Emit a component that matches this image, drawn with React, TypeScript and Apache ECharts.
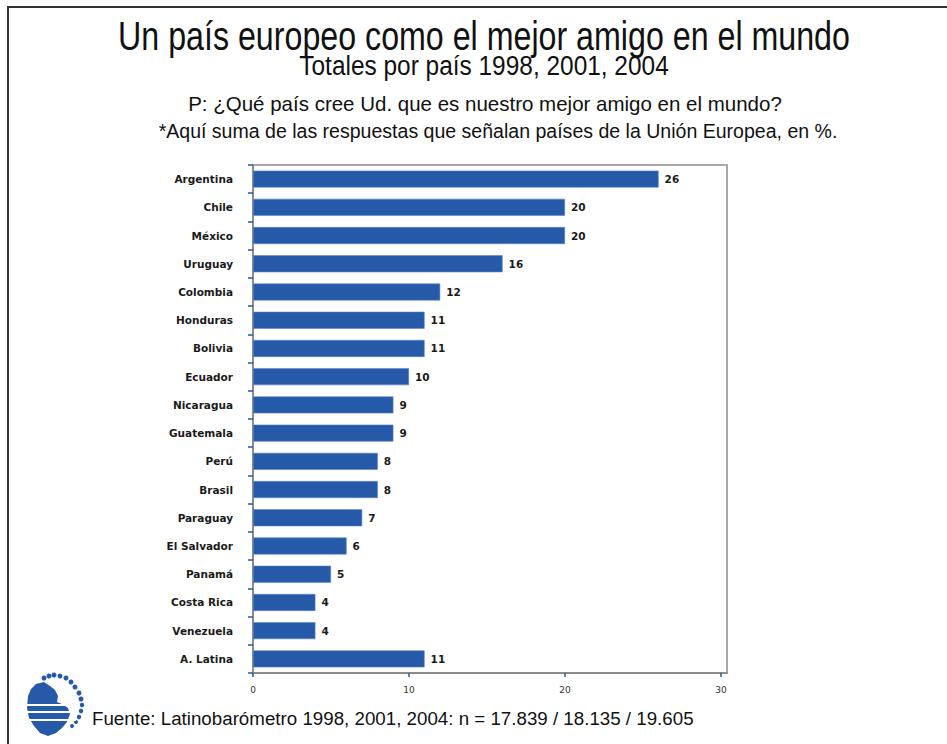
import React, { useEffect, useRef } from "react";
import * as echarts from "echarts";

const categories = [
  "Argentina", "Chile", "México", "Uruguay", "Colombia", "Honduras", "Bolivia", "Ecuador",
  "Nicaragua", "Guatemala", "Perú", "Brasil", "Paraguay", "El Salvador", "Panamá",
  "Costa Rica", "Venezuela", "A. Latina",
];
const values = [26, 20, 20, 16, 12, 11, 11, 10, 9, 9, 8, 8, 7, 6, 5, 4, 4, 11];
const xTicks = [0, 10, 20, 30];

const titleText = "Un país europeo como el mejor amigo en el mundo";
const subtitleText = "Totales por país 1998, 2001, 2004";
const questionText = "P: ¿Qué país cree Ud. que es nuestro mejor amigo en el mundo?";
const noteText = "*Aquí suma de las respuestas que señalan países de la Unión Europea, en %.";
const sourceText = "Fuente: Latinobarómetro 1998, 2001, 2004: n = 17.839 / 18.135 / 19.605";

const BLUE = "#2659a8";
const SANS = "'Liberation Sans', Arial, sans-serif";
const LABEL_FONT = "'DejaVu Sans', sans-serif";

export default function App() {
  const ref = useRef<HTMLDivElement>(null);
  useEffect(() => {
    if (!ref.current) return;
    const chart = echarts.init(ref.current, null, { renderer: "svg" });
    const logoDots = [
      [44, 678, 2.5], [49, 676, 2.5], [54, 675, 2.5], [60, 676, 2.5], [66, 678, 2.5],
      [71, 682, 2.5], [75, 687, 2.5], [79, 693, 2.5], [81, 699, 2.5], [82, 705, 2.2],
      [81, 711, 2.2], [79, 717, 2.2], [76, 722, 2], [72, 726, 2],
    ];
    chart.setOption({
      animation: false,
      backgroundColor: "#ffffff",
      grid: {
        left: 253, top: 165, width: 474, height: 508,
        show: true, borderColor: "#a8a8a8", borderWidth: 2,
      },
      xAxis: {
        type: "value", min: 0, max: 30 * 474 / 468,
        axisLine: { show: true, lineStyle: { color: "#8c8c8c", width: 2 } },
        axisTick: { show: true, customValues: xTicks, length: 4, lineStyle: { color: BLUE, width: 1.5 } },
        axisLabel: { customValues: xTicks, fontSize: 9, color: "#333", margin: 12, fontFamily: LABEL_FONT },
        splitLine: { show: false },
      },
      yAxis: {
        type: "category", data: categories, inverse: true,
        axisLine: { show: true, lineStyle: { color: "#8c8c8c", width: 2 } },
        axisTick: { show: true, length: 5, lineStyle: { color: BLUE, width: 1.5 } },
        axisLabel: { fontSize: 10.5, fontWeight: "bold", color: "#1a1a1a", margin: 20, fontFamily: LABEL_FONT },
      },
      series: [
        {
          type: "bar", data: values, barWidth: 17,
          itemStyle: { color: BLUE, borderColor: "#5a86c8", borderWidth: 0.6 },
          label: {
            show: true, position: "right", distance: 6, fontSize: 10.5, fontWeight: "bold",
            color: "#1a1a1a", fontFamily: LABEL_FONT,
          },
        },
      ],
      graphic: [
        { type: "line", shape: { x1: 7, y1: 7, x2: 947, y2: 7 }, style: { stroke: "#333", lineWidth: 2 } },
        { type: "line", shape: { x1: 8, y1: 7, x2: 8, y2: 744 }, style: { stroke: "#333", lineWidth: 2 } },
        {
          type: "text", x: 484, y: 36, scaleX: 0.805,
          style: { text: titleText, font: `40px ${SANS}`, fill: "#111", align: "center", verticalAlign: "middle" },
        },
        {
          type: "text", x: 484, y: 65, scaleX: 0.873,
          style: { text: subtitleText, font: `28px ${SANS}`, fill: "#111", align: "center", verticalAlign: "middle" },
        },
        {
          type: "text", x: 485, y: 104, scaleX: 1.025,
          style: { text: questionText, font: `20px ${SANS}`, fill: "#111", align: "center", verticalAlign: "middle" },
        },
        {
          type: "text", x: 498, y: 131, scaleX: 0.977,
          style: { text: noteText, font: `20px ${SANS}`, fill: "#111", align: "center", verticalAlign: "middle" },
        },
        {
          type: "text", x: 92, y: 718, scaleX: 0.987,
          style: { text: sourceText, font: `19px ${SANS}`, fill: "#111", align: "left", verticalAlign: "middle" },
        },
        {
          type: "group",
          children: [
            {
              type: "polygon",
              shape: {
                points: [
                  [36, 684], [44, 682], [50, 686], [55, 690], [58, 696], [57, 702], [62, 704],
                  [68, 708], [70, 714], [67, 722], [62, 728], [56, 733], [48, 736], [40, 733],
                  [34, 726], [29, 718], [27, 708], [28, 696], [31, 689],
                ],
              },
              style: { fill: BLUE },
            },
            ...logoDots.map((d) => ({
              type: "circle", shape: { cx: d[0], cy: d[1], r: d[2] }, style: { fill: BLUE },
            })),
            { type: "rect", shape: { x: 24, y: 704, width: 52, height: 2 }, style: { fill: "#fff" } },
            { type: "rect", shape: { x: 24, y: 711, width: 52, height: 2 }, style: { fill: "#fff" } },
            { type: "rect", shape: { x: 24, y: 719, width: 52, height: 2 }, style: { fill: "#fff" } },
          ],
        },
      ],
    });
    return () => chart.dispose();
  }, []);
  return (
    <div
      ref={ref}
      style={{ position: "fixed", left: 0, top: 0, width: 947, height: 744, background: "#fff" }}
    />
  );
}
